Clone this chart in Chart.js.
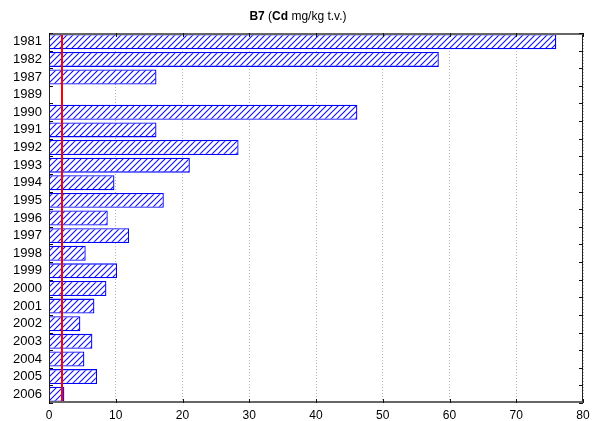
<!DOCTYPE html>
<html>
<head>
<meta charset="utf-8">
<script src="https://cdn.jsdelivr.net/npm/chart.js@4.4.1/dist/chart.umd.min.js"></script>
<style>
  html, body { margin: 0; padding: 0; background: #fff; }
  #wrap { width: 596px; height: 421px; }
</style>
</head>
<body>
<div id="wrap"><canvas id="chart" width="596" height="421"></canvas></div>
<script>
// data
const years = ['1981', '1982', '1987', '1989', '1990', '1991', '1992', '1993', '1994', '1995', '1996',
               '1997', '1998', '1999', '2000', '2001', '2002', '2003', '2004', '2005', '2006'];
const cdValues = [76.0, 58.4, 16.1, null, 46.2, 16.1, 28.4, 21.1, 9.8, 17.2, 8.8,
                  12.0, 5.5, 10.2, 8.6, 6.8, 4.7, 6.5, 5.3, 7.2, 2.3];
const xTicks = [0, 10, 20, 30, 40, 50, 60, 70, 80];
const limitLine = [2];
const titleParts = [['B7 ', 'bold'], ['(', 'normal'], ['Cd', 'bold'], [' mg/kg t.v.)', 'normal']];

const FONT = '"Liberation Sans", Arial, sans-serif';

// hatch pattern like the original ////
function hatch() {
    const n = 6;
    const c = document.createElement('canvas');
    c.width = n; c.height = n;
    const g = c.getContext('2d');
    g.fillStyle = '#fff';
    g.fillRect(0, 0, n, n);
    g.strokeStyle = '#1010ff';
    g.lineWidth = 1.1;
    g.beginPath();
    g.moveTo(-1, n + 1); g.lineTo(n + 1, -1);
    g.moveTo(-1, 1); g.lineTo(1, -1);
    g.moveTo(n - 1, n + 1); g.lineTo(n + 1, n - 1);
    g.stroke();
    return g.createPattern(c, 'repeat');
}

const extras = {
    id: 'extras',
    afterDatasetsDraw(chart) {
        const { ctx, chartArea: a, scales } = chart;
        const x = scales.x, y = scales.y;
        ctx.save();
        // limit line
        ctx.strokeStyle = '#ff0000';
        ctx.lineWidth = 2;
        limitLine.forEach(v => {
            const px = Math.round(x.getPixelForValue(v));
            ctx.beginPath();
            ctx.moveTo(px, a.top);
            ctx.lineTo(px, a.bottom);
            ctx.stroke();
        });
        // frame
        ctx.lineWidth = 1;
        ctx.strokeStyle = '#222';
        ctx.beginPath();
        ctx.moveTo(a.left + 0.5, a.top); ctx.lineTo(a.left + 0.5, a.bottom);
        ctx.moveTo(a.right - 0.5, a.top); ctx.lineTo(a.right - 0.5, a.bottom);
        ctx.stroke();
        ctx.strokeStyle = '#666';
        ctx.lineWidth = 2;
        ctx.beginPath();
        ctx.moveTo(a.left, a.top + 1); ctx.lineTo(a.right, a.top + 1);
        ctx.moveTo(a.left, a.bottom - 1); ctx.lineTo(a.right, a.bottom - 1);
        ctx.stroke();
        // inward tick marks
        ctx.strokeStyle = '#111';
        ctx.lineWidth = 1;
        ctx.beginPath();
        xTicks.forEach(v => {
            const px = Math.round(x.getPixelForValue(v)) + 0.5;
            ctx.moveTo(px, a.top); ctx.lineTo(px, a.top + 4);
            ctx.moveTo(px, a.bottom); ctx.lineTo(px, a.bottom - 4);
        });
        for (let i = 0; i <= years.length; i++) {
            const py = Math.round((y.getPixelForValue(i - 0.5))) + 0.5;
            ctx.moveTo(a.left, py); ctx.lineTo(a.left + 4, py);
            ctx.moveTo(a.right, py); ctx.lineTo(a.right - 4, py);
        }
        ctx.stroke();
        // title, centred on the whole picture
        let w = 0;
        titleParts.forEach(([t, wt]) => { ctx.font = wt + ' 12px ' + FONT; w += ctx.measureText(t).width; });
        let tx = chart.width / 2 - w / 2;
        ctx.fillStyle = '#000';
        ctx.textBaseline = 'middle';
        titleParts.forEach(([t, wt]) => {
            ctx.font = wt + ' 12px ' + FONT;
            ctx.fillText(t, tx, 17);
            tx += ctx.measureText(t).width;
        });
        ctx.restore();
    }
};

new Chart(document.getElementById('chart'), {
    type: 'bar',
    data: {
        labels: years,
        datasets: [{
            data: cdValues,
            backgroundColor: hatch(),
            borderColor: '#0000ff',
            borderWidth: 1.3,
            barPercentage: 0.85,
            categoryPercentage: 1.0
        }]
    },
    options: {
        indexAxis: 'y',
        responsive: false,
        animation: false,
        layout: { padding: { top: 33, right: 13, left: 0, bottom: 0 } },
        plugins: { legend: { display: false }, tooltip: { enabled: false } },
        scales: {
            x: {
                min: 0, max: 80,
                afterBuildTicks: s => { s.ticks = xTicks.map(v => ({ value: v })); },
                afterFit: s => { s.height = 18; },
                border: { display: false, dash: [1, 2] },
                grid: { color: '#b4b4b4', drawTicks: false },
                ticks: { color: '#000', font: { family: FONT, size: 12 }, padding: 5, maxRotation: 0 }
            },
            y: {
                offset: true,
                afterFit: s => { s.width = 49; },
                border: { display: false },
                grid: { display: false, drawTicks: false },
                ticks: { color: '#000', font: { family: FONT, size: 13 }, padding: 7, autoSkip: false }
            }
        }
    },
    plugins: [extras]
});
</script>
</body>
</html>
